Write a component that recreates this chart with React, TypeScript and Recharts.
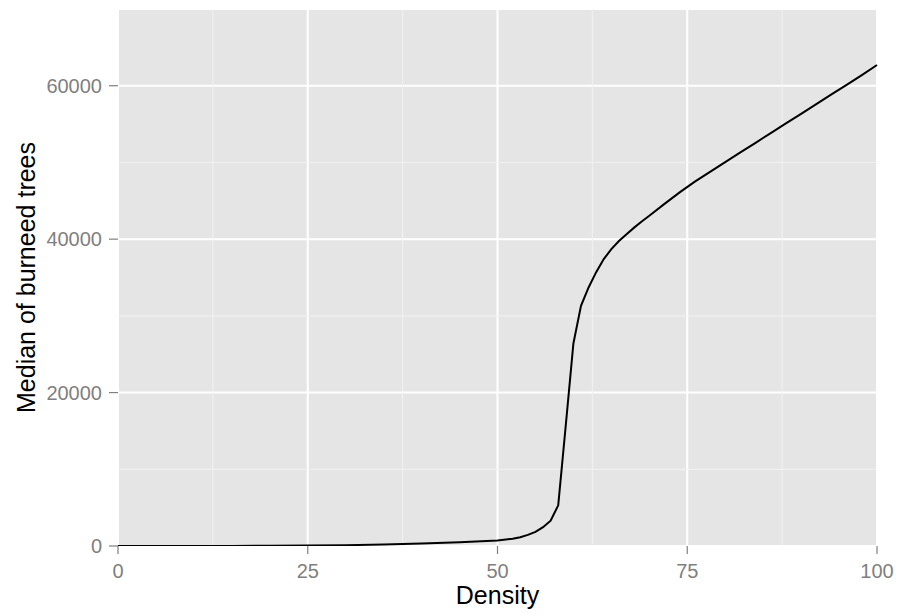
import React from 'react';
import {
  LineChart,
  Line,
  XAxis,
  YAxis,
  CartesianGrid,
  ReferenceLine,
  Label,
} from 'recharts';

// 密度（x）与烧毁树木中位数（y）
const densities = [
  0, 5, 10, 15, 20, 25, 30, 35, 40, 45, 50, 52, 53, 54, 55, 56, 57, 58, 59,
  60, 61, 62, 63, 64, 65, 66, 67, 68, 69, 70, 72, 74, 76, 78, 80, 82, 84, 86,
  88, 90, 92, 94, 96, 98, 100,
];
const medians = [
  0, 2, 5, 12, 25, 50, 100, 200, 320, 480, 720, 950, 1150, 1450, 1850, 2450,
  3300, 5300, 15800, 26400, 31300, 33700, 35700, 37400, 38700, 39750, 40650,
  41500, 42300, 43050, 44600, 46100, 47500, 48780, 50040, 51300, 52560, 53820,
  55080, 56340, 57600, 58860, 60120, 61380, 62700,
];

const xTicks = [0, 25, 50, 75, 100];
const xMinor = [12.5, 37.5, 62.5, 87.5];
const yTicks = [0, 20000, 40000, 60000];
const yMinor = [10000, 30000, 50000];

const data = densities.map((d, i) => ({ density: d, median: medians[i] }));

const font = '"Liberation Sans", Arial, Helvetica, sans-serif';
const tickStyle = { fill: '#7F7F7F', fontSize: 20, fontFamily: font };

const App: React.FC = () => {
  return (
    <div style={{ position: 'absolute', left: 0, top: 0 }}>
      <LineChart
        width={902}
        height={616}
        data={data}
        margin={{ top: 9, right: 25, left: 0, bottom: 0 }}
      >
        <CartesianGrid fill="#E5E5E5" stroke="#FFFFFF" strokeWidth={2} />
        {xMinor.map(v => (
          <ReferenceLine key={`x${v}`} x={v} stroke="#F2F2F2" strokeWidth={1} />
        ))}
        {yMinor.map(v => (
          <ReferenceLine key={`y${v}`} y={v} stroke="#F2F2F2" strokeWidth={1} />
        ))}
        <XAxis
          dataKey="density"
          type="number"
          domain={[0, 100]}
          ticks={xTicks}
          axisLine={false}
          tickLine={{ stroke: '#7F7F7F', strokeWidth: 1.2 }}
          tickSize={8}
          tickMargin={10}
          height={70}
          tick={tickStyle}
        >
          <Label
            value="Density"
            position="insideBottom"
            offset={12}
            style={{ fill: '#000', fontSize: 25, fontFamily: font }}
          />
        </XAxis>
        <YAxis
          type="number"
          domain={[0, 70000]}
          ticks={yTicks}
          allowDataOverflow
          axisLine={false}
          tickLine={{ stroke: '#7F7F7F', strokeWidth: 1.2 }}
          tickSize={9}
          tickMargin={7}
          width={118}
          tick={tickStyle}
        >
          <Label
            value="Median of burneed trees"
            position="insideLeft"
            angle={-90}
            offset={26}
            textAnchor="middle"
            style={{ fill: '#000', fontSize: 25, fontFamily: font, textAnchor: 'middle' }}
          />
        </YAxis>
        <Line
          type="linear"
          dataKey="median"
          stroke="#000000"
          strokeWidth={2}
          dot={false}
          isAnimationActive={false}
        />
      </LineChart>
    </div>
  );
};

export default App;
